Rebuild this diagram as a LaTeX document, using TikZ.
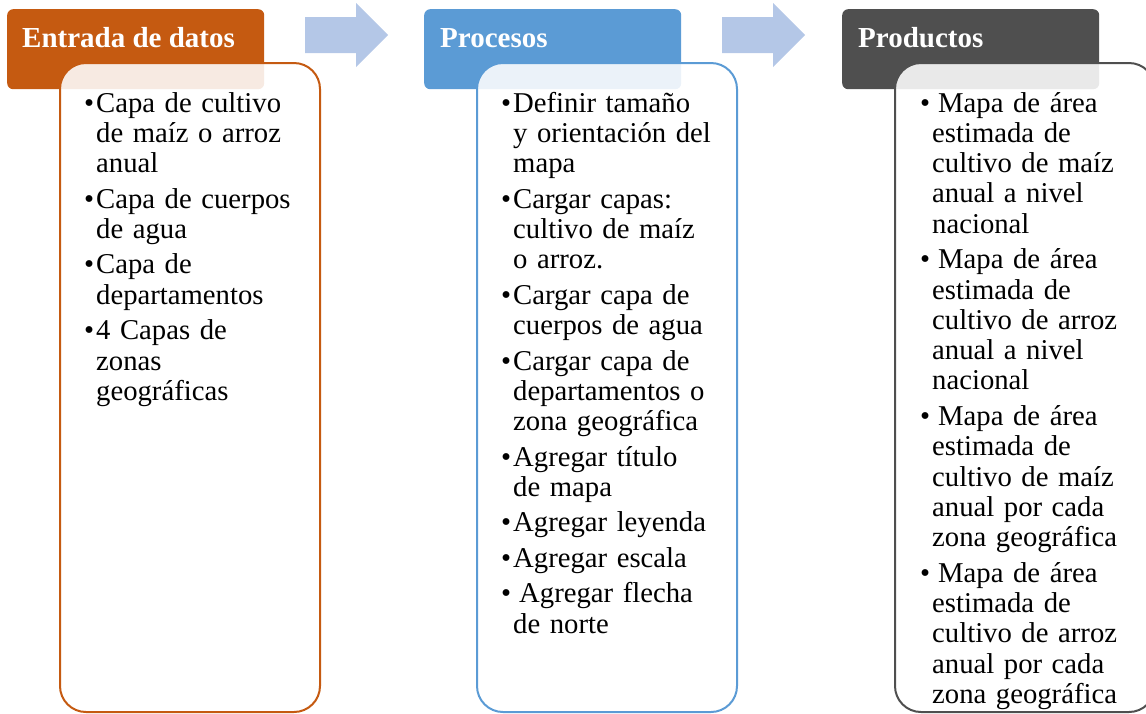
\documentclass[tikz,border=0pt]{standalone}
\usepackage{fontspec}
\setmainfont{Liberation Serif}
\definecolor{cOrange}{HTML}{C55A11}
\definecolor{cBlue}{HTML}{5B9BD5}
\definecolor{cDark}{HTML}{4F4F4F}
\definecolor{cArrow}{HTML}{B4C7E7}
\newcommand\bul{\leavevmode\llap{•\hspace{2pt}}}
\begin{document}
\begin{tikzpicture}[x=1pt,y=-1pt,
  hdrbox/.style={fill=#1, rounded corners=6pt, minimum width=257pt, minimum height=80pt, anchor=north west, inner sep=0pt, draw=none},
  bodybox/.style={draw=#1, line width=2pt, fill=white, fill opacity=0.88, rounded corners=26pt, minimum width=260pt, minimum height=649pt, anchor=north west, inner sep=0pt},
  hdrtext/.style={anchor=base west, inner sep=0pt, text=white, font=\bfseries\fontsize{29}{30}\selectfont},
  bodytext/.style={anchor=base west, inner sep=0pt, text width=240pt, align=left, font=\fontsize{28.7}{30.3}\selectfont},
  blockarrow/.style={fill=cArrow, draw=none}
]
\useasboundingbox (0,0) rectangle (1146,713);
\clip (0,0) rectangle (1146,713);

% arrows
\fill[blockarrow] (305,17) -- (356,17) -- (356,3) -- (388,35) -- (356,67) -- (356,53) -- (305,53) -- cycle;
\fill[blockarrow] (722,17) -- (773,17) -- (773,3) -- (805,35) -- (773,67) -- (773,53) -- (722,53) -- cycle;

% headers
\node[hdrbox=cOrange] (h1) at (7,9) {};
\node[hdrbox=cBlue] (h2) at (424,9) {};
\node[hdrbox=cDark] (h3) at (842,9) {};
\node[hdrtext] (ht1) at (22,47) {Entrada de datos};
\node[hdrtext] (ht2) at (440,47) {Procesos};
\node[hdrtext] (ht3) at (858,47) {Productos};

% bodies
\node[bodybox=cOrange] (b1) at (59,62) {};
\node[bodybox=cBlue] (b2) at (476,62) {};
\node[bodybox=cDark] (b3) at (894,62) {};

% texts
\node[bodytext] (t1) at (96,112) {%
\bul Capa de cultivo\\de maíz o arroz\\anual\\[5.2pt]
\bul Capa de cuerpos\\de agua\\[5.2pt]
\bul Capa de\\departamentos\\[5.2pt]
\bul 4 Capas de\\zonas\\geográficas};

\node[bodytext] (t2) at (513,112) {%
\bul Definir tamaño\\y orientación del\\mapa\\[5.2pt]
\bul Cargar capas:\\cultivo de maíz\\o arroz.\\[5.2pt]
\bul Cargar capa de\\cuerpos de agua\\[5.2pt]
\bul Cargar capa de\\departamentos o\\zona geográfica\\[5.2pt]
\bul Agregar título\\de mapa\\[5.2pt]
\bul Agregar leyenda\\[5.2pt]
\bul Agregar escala\\[5.2pt]
\bul\hspace*{6pt}Agregar flecha\\de norte};

\node[bodytext] (t3) at (932,112) {%
\bul\hspace*{6pt}Mapa de área\\estimada de\\cultivo de maíz\\anual a nivel\\nacional\\[5.2pt]
\bul\hspace*{6pt}Mapa de área\\estimada de\\cultivo de arroz\\anual a nivel\\nacional\\[5.2pt]
\bul\hspace*{6pt}Mapa de área\\estimada de\\cultivo de maíz\\anual por cada\\zona geográfica\\[5.2pt]
\bul\hspace*{6pt}Mapa de área\\estimada de\\cultivo de arroz\\anual por cada\\zona geográfica};
\end{tikzpicture}
\end{document}
